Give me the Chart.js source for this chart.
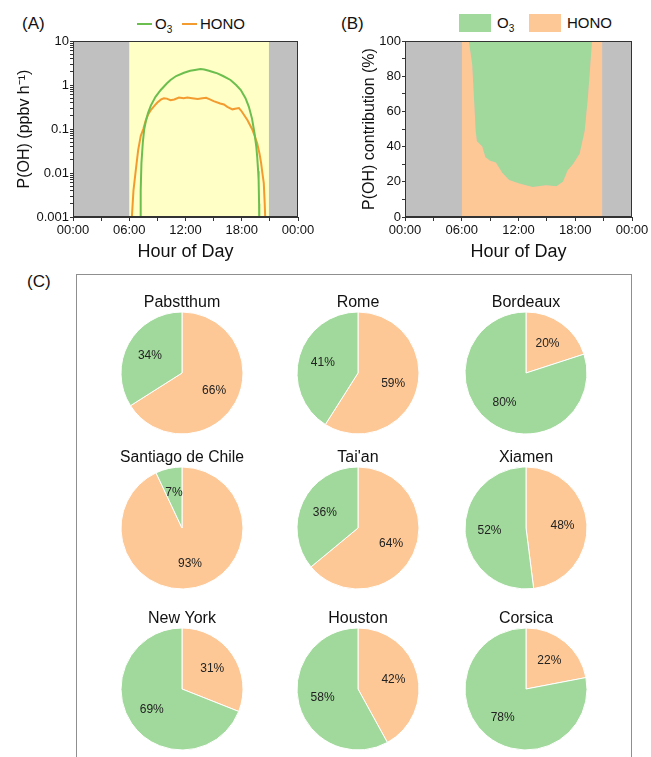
<!DOCTYPE html>
<html>
<head>
<meta charset="utf-8">
<script src="https://cdn.jsdelivr.net/npm/chart.js@4.4.1/dist/chart.umd.min.js"></script>
<style>
  body { margin: 0; width: 651px; height: 757px; overflow: hidden; background: #fff; position: relative;
         font-family: "Liberation Sans", Arial, sans-serif; color: #111; }
  canvas { position: absolute; }
  .lab { position: absolute; font-size: 17px; line-height: 20px; }
  .item { position: absolute; display: flex; align-items: center; font-size: 15px; line-height: 20px; white-space: nowrap; }
  .ln { display: inline-block; width: 15px; height: 2px; margin-right: 3px; }
  .bx { display: inline-block; width: 32px; height: 18px; margin-right: 6px; }
  sub { font-size: 10px; vertical-align: -4px; line-height: 0; }
  #boxC { position: absolute; left: 76px; top: 274px; width: 556px; height: 500px; box-sizing: border-box; border: 1.5px solid #8f8f8f; }
</style>
</head>
<body>
<div class="lab" style="left:22px;top:14px">(A)</div>
<div class="lab" style="left:341px;top:14px">(B)</div>
<div class="lab" style="left:27px;top:272px">(C)</div>
<div id="boxC"></div>
<div id="legA"></div>
<div id="legB"></div>
<canvas id="cA" width="320" height="270" style="left:0;top:0"></canvas>
<canvas id="cB" width="331" height="270" style="left:320px;top:0"></canvas>

<script>
// (A) OH production rate, ppbv h-1
const o3Hours = [7.10, 7.16, 7.22, 7.30, 7.45, 7.6, 7.77, 8.0, 8.3, 8.8, 9.36, 10.0, 10.4, 11.0, 11.84, 12.5, 13.0, 13.6,
                 14.0, 14.5, 15.0, 15.4, 16.0, 16.8, 17.4, 17.9, 18.4, 18.76, 19.1, 19.36, 19.55, 19.65, 19.75, 19.8, 19.85, 19.87];
const o3Rate = [0.0005, 0.001, 0.004, 0.017, 0.05, 0.1, 0.15, 0.23, 0.34, 0.54, 0.77, 1.08, 1.3, 1.6, 1.9, 2.1, 2.2, 2.3,
                2.25, 2.1, 1.95, 1.84, 1.6, 1.3, 1.0, 0.77, 0.5, 0.32, 0.17, 0.08, 0.04, 0.023, 0.011, 0.0069, 0.002, 0.0005];
const honoHours = [6.22, 6.28, 6.45, 6.7, 6.95, 7.23, 7.5, 7.77, 8.0, 8.3, 8.7, 9.0, 9.4, 9.7, 10.0, 10.4, 10.8, 11.3, 11.8,
                   12.2, 12.7, 13.3, 13.8, 14.2, 14.6, 15.0, 15.7, 16.1, 16.46, 17.0, 17.3, 17.7, 18.0, 18.3, 18.6, 19.1,
                   19.36, 19.65, 19.9, 20.07, 20.2, 20.35, 20.45, 20.5, 20.55];
const honoRate = [0.0005, 0.001, 0.004, 0.0117, 0.033, 0.07, 0.1, 0.16, 0.21, 0.27, 0.34, 0.4, 0.47, 0.5, 0.49, 0.45, 0.47,
                  0.52, 0.5, 0.52, 0.5, 0.48, 0.5, 0.51, 0.47, 0.43, 0.38, 0.36, 0.32, 0.28, 0.29, 0.30, 0.25, 0.2, 0.16,
                  0.1, 0.072, 0.047, 0.027, 0.0166, 0.01, 0.0059, 0.002, 0.001, 0.0005];
const sunrise = 6, sunset = 20.9;

// (B) contribution, %
const shareHours = [6.0, 6.75, 7.1, 7.29, 7.47, 7.6, 7.8, 8.17, 8.5, 9.0, 9.6, 10.3, 11.0, 12.07, 13.5, 14.9, 16.0,
                    16.7, 17.2, 17.75, 18.46, 19.0, 19.34, 19.6, 19.77, 20.87];
const honoPct = [100, 100, 87, 68, 49, 43, 42, 40, 34, 32, 31, 25, 21, 19, 17, 18, 17.5, 20, 26.6, 30, 36, 49, 68, 87, 100, 100];
const o3Pct = [0, 0, 13, 32, 51, 57, 58, 60, 66, 68, 69, 75, 79, 81, 83, 82, 82.5, 80, 73.4, 70, 64, 51, 32, 13, 0, 0];

// (C) sites
const cities = ['Pabstthum', 'Rome', 'Bordeaux', 'Santiago de Chile', "Tai'an", 'Xiamen', 'New York', 'Houston', 'Corsica'];
const o3Share = [34, 41, 80, 7, 36, 52, 69, 58, 78];
const honoShare = [66, 59, 20, 93, 64, 48, 31, 42, 22];

const yDecades = [0.001, 0.01, 0.1, 1, 10];

const lineGreen = '#6cbf4f', lineOrange = '#f39b2f';
const mint = '#a0d99b', peach = '#fdc896';

Chart.defaults.font.family = '"Liberation Sans", Arial, sans-serif';
Chart.defaults.color = '#111';

function hourLabel(v) {
  if (v % 6 !== 0) return '';
  return String(v % 24).padStart(2, '0') + ':00';
}

const bands = {
  id: 'bands',
  beforeDraw(chart, args, opts) {
    const {ctx, chartArea: a, scales: {x}} = chart;
    ctx.save();
    ctx.fillStyle = opts.night;
    ctx.fillRect(a.left, a.top, a.right - a.left, a.bottom - a.top);
    if (opts.day) {
      const x0 = x.getPixelForValue(sunrise), x1 = x.getPixelForValue(sunset);
      ctx.fillStyle = opts.day;
      ctx.fillRect(x0, a.top, x1 - x0, a.bottom - a.top);
    }
    ctx.restore();
  },
  afterDraw(chart) {
    const {ctx, chartArea: a} = chart;
    ctx.save();
    ctx.strokeStyle = '#333';
    ctx.lineWidth = 1;
    ctx.strokeRect(Math.round(a.left) + 0.5, Math.round(a.top) + 0.5, Math.round(a.right - a.left) - 1, Math.round(a.bottom - a.top) - 1);
    ctx.restore();
  }
};

const xAxis = {
  type: 'linear', min: 0, max: 24,
  ticks: {stepSize: 3, autoSkip: false, maxRotation: 0, padding: 2, font: {size: 13}, callback: hourLabel},
  grid: {drawOnChartArea: false, tickLength: 4, color: '#333'},
  border: {color: '#333'},
  title: {display: true, text: 'Hour of Day', font: {size: 18}, padding: {top: 0, bottom: 4}},
  afterFit(s) { s.height = 50; }
};

const chartA = new Chart(document.getElementById('cA'), {
  type: 'line',
  data: {
    datasets: [
      {label: 'O₃', data: o3Hours.map((h, i) => ({x: h, y: o3Rate[i]})), borderColor: lineGreen, borderWidth: 2, pointRadius: 0},
      {label: 'HONO', data: honoHours.map((h, i) => ({x: h, y: honoRate[i]})), borderColor: lineOrange, borderWidth: 2, pointRadius: 0}
    ]
  },
  options: {
    responsive: false, animation: false, events: [],
    layout: {padding: {left: 0, right: 22, top: 41, bottom: 3}},
    plugins: {legend: {display: false}, tooltip: {enabled: false}, bands: {night: '#c0c0c0', day: '#ffffc6'}},
    scales: {
      x: xAxis,
      y: {
        type: 'logarithmic', min: 0.001, max: 10,
        afterBuildTicks(s) {
          const t = [];
          yDecades.forEach((d, i) => {
            for (let k = 1; k <= (i === yDecades.length - 1 ? 1 : 9); k++) t.push({value: d * k});
          });
          s.ticks = t;
        },
        ticks: {
          padding: 1, font: {size: 13}, autoSkip: false,
          callback(v) {
            const d = yDecades.find(d => Math.abs(d - v) < d * 1e-6);
            return d === undefined ? '' : String(d);
          }
        },
        grid: {drawOnChartArea: false, tickLength: 3, color: '#333'},
        border: {color: '#333'},
        title: {display: true, text: 'P(OH) (ppbv h⁻¹)', font: {size: 16}, padding: {top: 15, bottom: 0}},
        afterFit(s) { s.width = 73; }
      }
    }
  },
  plugins: [bands]
});

const chartB = new Chart(document.getElementById('cB'), {
  type: 'line',
  data: {
    datasets: [
      {label: 'HONO', data: shareHours.map((h, i) => ({x: h, y: honoPct[i]})), backgroundColor: peach, borderWidth: 0, pointRadius: 0, fill: 'origin'},
      {label: 'O₃', data: shareHours.map((h, i) => ({x: h, y: o3Pct[i]})), backgroundColor: mint, borderWidth: 0, pointRadius: 0, fill: '-1'}
    ]
  },
  options: {
    responsive: false, animation: false, events: [],
    layout: {padding: {left: 0, right: 19, top: 41, bottom: 3}},
    plugins: {legend: {display: false}, tooltip: {enabled: false}, bands: {night: '#c0c0c0'}},
    scales: {
      x: xAxis,
      y: {
        type: 'linear', min: 0, max: 100, stacked: true,
        ticks: {stepSize: 10, padding: 1, font: {size: 13}, autoSkip: false, callback: v => (v % 20 === 0 ? String(v) : '')},
        grid: {drawOnChartArea: false, tickLength: 3, color: '#333'},
        border: {color: '#333'},
        title: {display: true, text: 'P(OH) contribution (%)', font: {size: 16}, padding: {top: 40, bottom: 0}},
        afterFit(s) { s.width = 85; }
      }
    }
  },
  plugins: [bands]
});

// html legends from the datasets
function buildLegend(chart, host, order, lefts, kind) {
  const el = document.getElementById(host);
  order.forEach((di, j) => {
    const ds = chart.data.datasets[di];
    const item = document.createElement('div');
    item.className = 'item';
    item.style.left = lefts[j] + 'px';
    item.style.top = kind === 'ln' ? '14px' : '13px';
    const sw = document.createElement('span');
    sw.className = kind;
    sw.style.background = kind === 'ln' ? ds.borderColor : ds.backgroundColor;
    const tx = document.createElement('span');
    tx.innerHTML = ds.label.replace('₃', '<sub>3</sub>');
    item.appendChild(sw);
    item.appendChild(tx);
    el.appendChild(item);
  });
}
buildLegend(chartA, 'legA', [0, 1], [137, 182], 'ln');
buildLegend(chartB, 'legB', [1, 0], [459, 529], 'bx');

// (C) pies
const pctLabels = {
  id: 'pctLabels',
  afterDatasetsDraw(chart) {
    const ctx = chart.ctx;
    const ds = chart.data.datasets[0];
    ctx.save();
    ctx.font = '12px "Liberation Sans", Arial, sans-serif';
    ctx.fillStyle = '#222';
    ctx.textAlign = 'center';
    ctx.textBaseline = 'middle';
    chart.getDatasetMeta(0).data.forEach((arc, i) => {
      const p = arc.getProps(['x', 'y', 'startAngle', 'endAngle', 'outerRadius'], true);
      const a = (p.startAngle + p.endAngle) / 2, r = p.outerRadius * 0.6;
      ctx.fillText(ds.data[i] + '%', p.x + Math.cos(a) * r, p.y + Math.sin(a) * r);
    });
    ctx.restore();
  }
};

const colX = [182, 358, 526], rowY = [373, 528, 689];
cities.forEach((name, i) => {
  const cx = colX[i % 3], cy = rowY[Math.floor(i / 3)];
  const cv = document.createElement('canvas');
  cv.width = 150;
  cv.height = 146;
  cv.style.left = (cx - 75) + 'px';
  cv.style.top = (cy - 82) + 'px';
  document.body.appendChild(cv);
  new Chart(cv, {
    type: 'pie',
    data: {
      labels: ['HONO', 'O₃'],
      datasets: [{data: [honoShare[i], o3Share[i]], backgroundColor: [peach, mint], borderColor: '#fff', borderWidth: 1}]
    },
    options: {
      responsive: false, animation: false, events: [],
      layout: {padding: {left: 13, right: 13, top: 0, bottom: 2.5}},
      plugins: {
        legend: {display: false}, tooltip: {enabled: false},
        title: {display: true, text: name, color: '#111', font: {size: 16, weight: 'normal', lineHeight: 1}, padding: {top: 4, bottom: 0.5}}
      }
    },
    plugins: [pctLabels]
  });
});
</script>
</body>
</html>
